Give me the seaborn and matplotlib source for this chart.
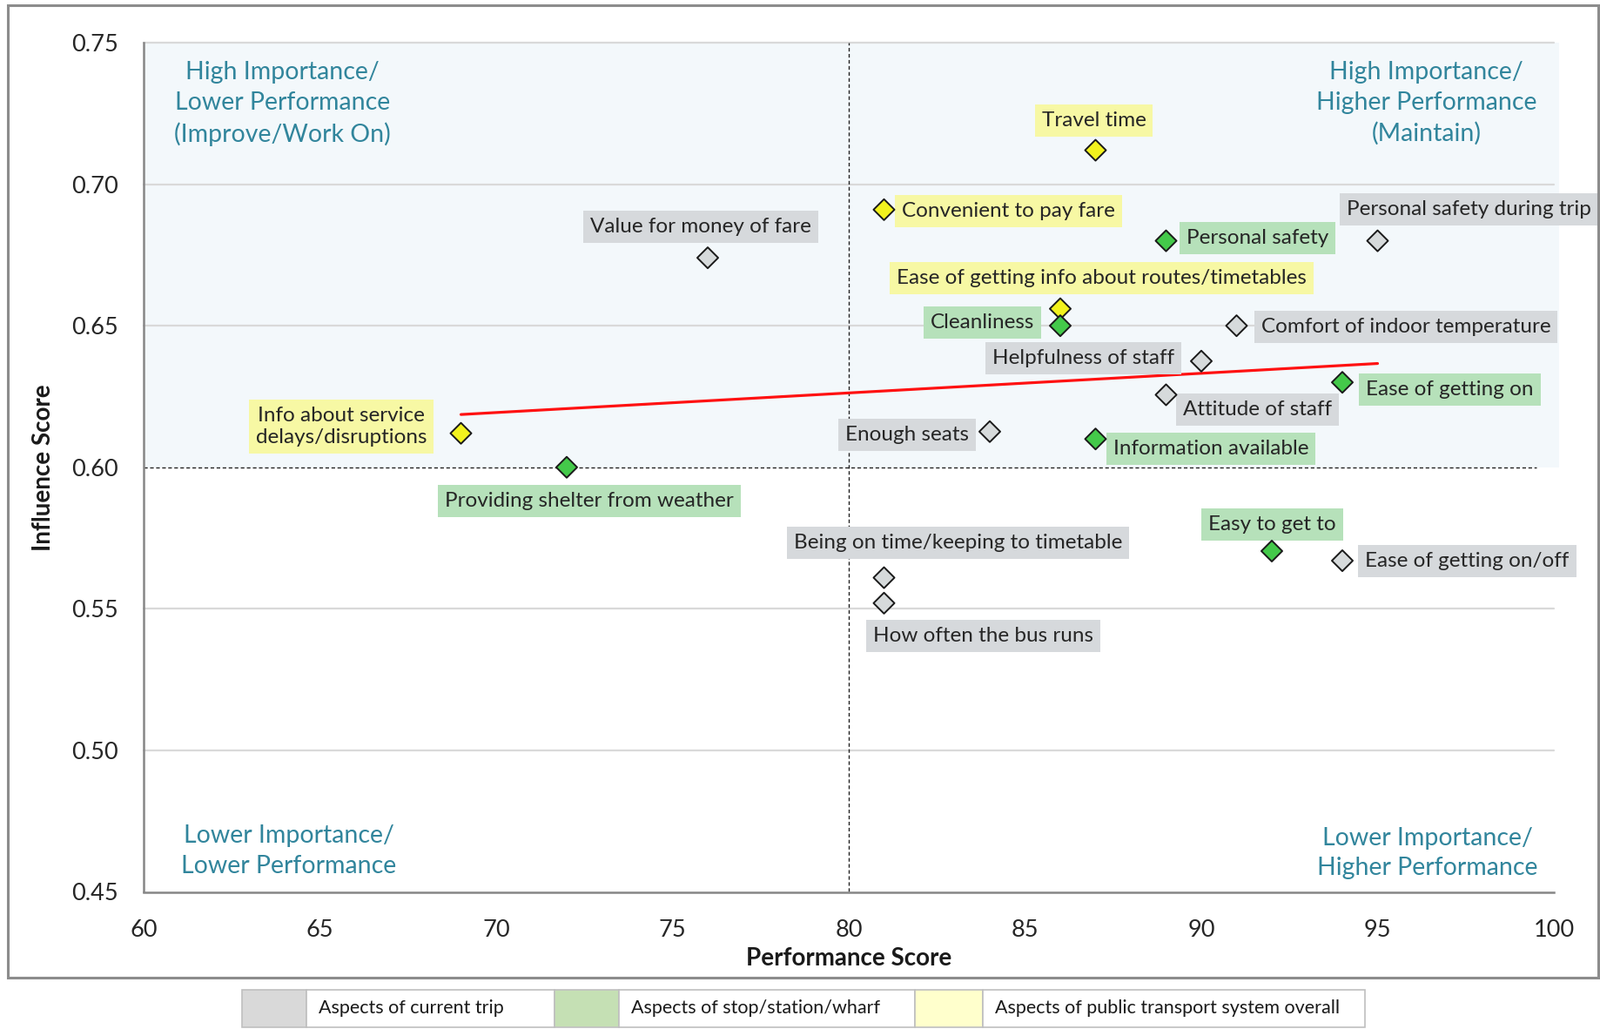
import numpy as np
import pandas as pd
import matplotlib
matplotlib.use("Agg")
import matplotlib.pyplot as plt
import seaborn as sns
from matplotlib.patches import Rectangle

# ---------------- data ----------------
aspects = [
    "Value for money of fare", "Travel time", "Convenient to pay fare",
    "Personal safety", "Personal safety during trip",
    "Ease of getting info about routes/timetables", "Cleanliness",
    "Comfort of indoor temperature", "Helpfulness of staff",
    "Ease of getting on", "Attitude of staff",
    "Info about service\ndelays/disruptions", "Enough seats",
    "Information available", "Providing shelter from weather",
    "Easy to get to", "Ease of getting on/off",
    "Being on time/keeping to timetable", "How often the bus runs",
]
performance = [76, 87, 81, 89, 95, 86, 86, 91, 90, 94, 89, 69, 84, 87, 72, 92, 94, 81, 81]
influence = [0.674, 0.712, 0.691, 0.680, 0.680, 0.656, 0.650, 0.650, 0.6375, 0.630,
             0.6256, 0.612, 0.6126, 0.610, 0.600, 0.5704, 0.567, 0.561, 0.552]
group = ["trip", "system", "system", "stop", "trip", "system", "stop", "trip", "trip",
         "stop", "trip", "system", "trip", "stop", "stop", "stop", "trip", "trip", "trip"]

group_names = ["Aspects of current trip", "Aspects of stop/station/wharf",
               "Aspects of public transport system overall"]
group_keys = ["trip", "stop", "system"]

quadrant_texts = ["High Importance/\nLower Performance\n(Improve/Work On)",
                  "High Importance/\nHigher Performance\n(Maintain)",
                  "Lower Importance/\nLower Performance",
                  "Lower Importance/\nHigher Performance"]
x_ticks = [60, 65, 70, 75, 80, 85, 90, 95, 100]
y_ticks = [0.45, 0.50, 0.55, 0.60, 0.65, 0.70, 0.75]

# ---------------- layout / style ----------------
label_pos = [
    (75.80, 0.6851), (86.95, 0.7226), (84.54, 0.6905), (91.6, 0.6811), (97.6, 0.6912),
    (87.18, 0.6667), (83.79, 0.6512), (95.8, 0.6497), (86.66, 0.6386), (97.05, 0.6274),
    (91.6, 0.6205), (65.61, 0.6144), (81.65, 0.6115), (90.27, 0.6065), (72.65, 0.5881),
    (92.01, 0.5798), (97.54, 0.5668), (83.10, 0.5733), (83.82, 0.5405),
]
quadrant_pos = [(63.94, 0.7284), (96.38, 0.7287), (64.11, 0.4644), (96.41, 0.4637)]

marker_colors = {"trip": "#D6DADB", "stop": "#44C94A", "system": "#F2F21E"}
box_colors = {"trip": "#D6D9DC", "stop": "#B6E1BA", "system": "#F7F8A4"}
legend_colors = ["#D9D9D9", "#C5E0B4", "#FFFFCC"]
teal = "#31859C"
FONT = ["Lato", "DejaVu Sans"]

sns.set_theme(style="white")
plt.rcParams["font.family"] = FONT

W, H = 1838, 1182
fig = plt.figure(figsize=(W / 100, H / 100), dpi=100)
ax = fig.add_axes([165 / W, 1 - 1024.5 / H, (1785 - 165) / W, (1024.5 - 49) / H])

df = pd.DataFrame({"aspect": aspects, "performance": performance,
                   "influence": influence, "group": group})

# shaded high-importance region
ax.add_patch(Rectangle((60, 0.60), 40.15, 0.15, facecolor="#F3F8FB",
                       edgecolor="none", zorder=0, clip_on=False))

# gridlines
for yv in y_ticks:
    if yv in (0.45, 0.60):
        continue
    ax.plot([60, 100], [yv, yv], color="#D9D9D9", lw=1.6, zorder=1, clip_on=False)
ax.plot([60, 99.5], [0.60, 0.60], color="#222222", lw=1.0, ls=(0, (3, 2)), zorder=1)
ax.plot([80, 80], [0.45, 0.75], color="#222222", lw=1.0, ls=(0, (3, 2)), zorder=1)

# trend line
sns.regplot(data=df, x="performance", y="influence", scatter=False, ci=None,
            truncate=True, ax=ax, line_kws=dict(color="#FF1111", lw=2.3, zorder=2))

# points
sns.scatterplot(data=df, x="performance", y="influence", hue="group",
                palette=marker_colors, marker="D", s=150, edgecolor="#1A1A1A",
                linewidth=1.4, legend=False, ax=ax, zorder=4, clip_on=False)

# point labels
for name, g, (lx, ly) in zip(aspects, group, label_pos):
    ax.text(lx, ly, name, ha="center", va="center", fontsize=17.5, color="#262626",
            linespacing=1.25, zorder=3,
            bbox=dict(boxstyle="square,pad=0.33", fc=box_colors[g], ec="none"))

# quadrant texts
for t, (qx, qy) in zip(quadrant_texts, quadrant_pos):
    ax.text(qx, qy, t, ha="center", va="center", fontsize=20.5, color=teal,
            linespacing=1.42, zorder=3)

ax.set_xlim(60, 100)
ax.set_ylim(0.45, 0.75)
ax.set_xticks(x_ticks)
ax.set_yticks(y_ticks)
ax.set_xticklabels([str(v) for v in x_ticks])
ax.set_yticklabels([f"{v:.2f}" for v in y_ticks])
ax.tick_params(axis="both", labelsize=19.5, colors="#262626", length=7, width=1.4,
               direction="out")
ax.tick_params(axis="x", pad=16, color="#868686")
ax.tick_params(axis="y", pad=14, color="#868686")
ax.grid(False)
for s in ["top", "right"]:
    ax.spines[s].set_visible(False)
for s in ["left", "bottom"]:
    ax.spines[s].set_color("#868686")
    ax.spines[s].set_linewidth(1.8)
ax.set_facecolor("none")

ax.set_xlabel("Performance Score", fontsize=20, fontweight="bold", color="#1A1A1A")
ax.set_ylabel("Influence Score", fontsize=20, fontweight="bold", color="#1A1A1A")
ax.xaxis.set_label_coords(0.5, -(1101 - 1024.5) / 975.5)
ax.xaxis.label.set_va("center")
ax.yaxis.set_label_coords(-(165 - 50) / 1620, 0.5)
ax.yaxis.label.set_va("center")

# outer frame
fig.add_artist(Rectangle((9 / W, 1 - 1123 / H), (1836 - 9) / W, (1123 - 6) / H,
                         transform=fig.transFigure, fill=False, ec="#8C8C8C", lw=2.2))

# legend table
cells = [(278, 352, 637), (637, 711, 1051), (1051, 1129, 1568)]
y0, y1 = 1137, 1180
for (sx, tx, ex), col, name in zip(cells, legend_colors, group_names):
    fig.add_artist(Rectangle((sx / W, 1 - y1 / H), (tx - sx) / W, (y1 - y0) / H,
                             transform=fig.transFigure, fc=col, ec="#BFBFBF", lw=1.2))
    fig.add_artist(Rectangle((tx / W, 1 - y1 / H), (ex - tx) / W, (y1 - y0) / H,
                             transform=fig.transFigure, fc="white", ec="#BFBFBF", lw=1.2))
    fig.text((tx + 14) / W, 1 - (y0 + y1) / 2 / H, name, ha="left", va="center",
             fontsize=15.5, color="#1A1A1A")

fig.savefig("out.png", dpi=100, facecolor="white")
